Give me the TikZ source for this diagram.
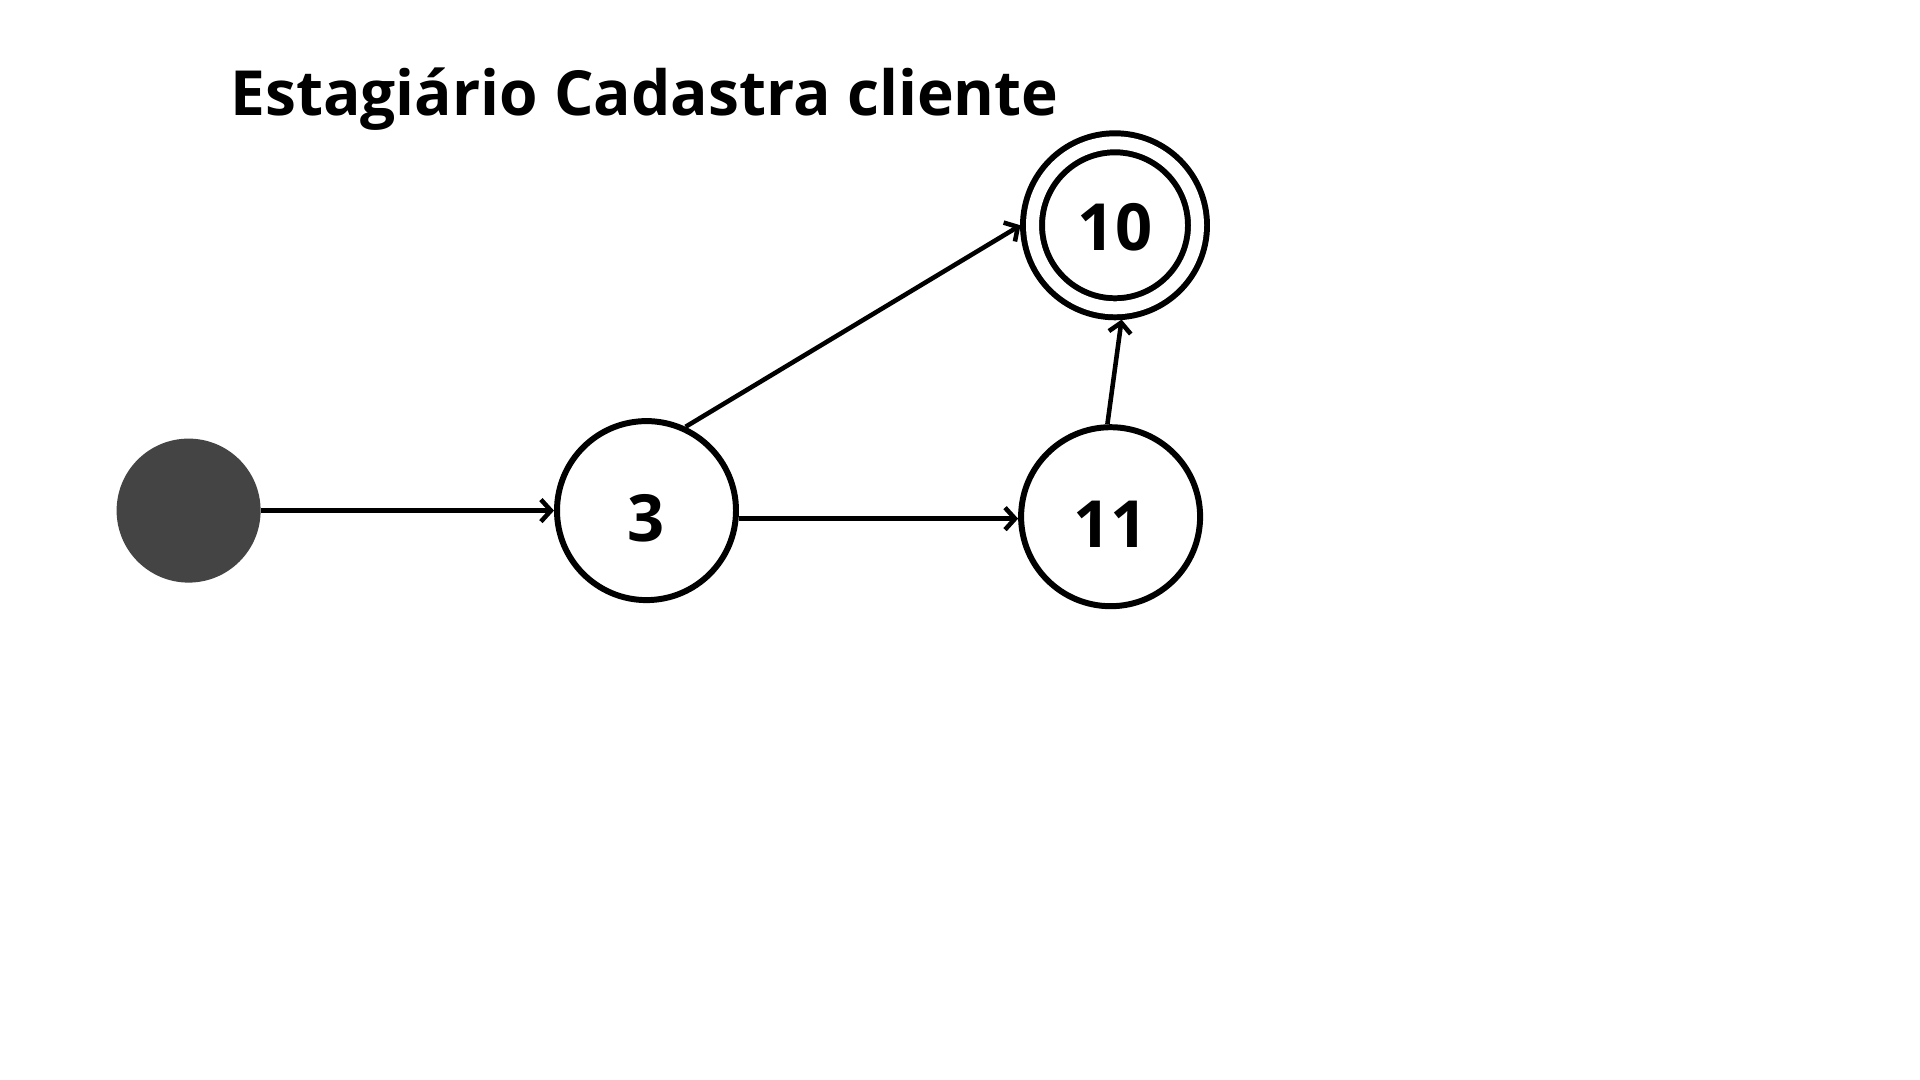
\documentclass[tikz,border=0pt]{standalone}
\usepackage{fontspec}
\setmainfont{Open Sans}
\usepackage{tikz}
\usetikzlibrary{arrows.meta}

\begin{document}
\begin{tikzpicture}[>={Straight Barb[length=1mm, width=2.2mm]},
    estado/.style={circle, draw, line width=1.7pt, fill=white, inner sep=0pt, minimum size=1.79cm, font=\fontsize{18.5}{20}\selectfont\bfseries, text height=0.62cm, text depth=0cm},
    final/.style={estado, double, double distance=0.13cm, minimum size=1.65cm, outer sep=0.12cm, text height=0.5cm},
    inicio/.style={circle, fill={rgb,255:red,68;green,68;blue,68}, inner sep=0pt, minimum size=1.44cm},
    seta/.style={->, line width=1.3pt}]
    \useasboundingbox (0, 0) rectangle (19.2, -10.8);
    \node [anchor=base west, font=\fontsize{17.7}{20}\selectfont\bfseries] (titulo) at (2.18, -1.16) {Estagiário Cadastra cliente};
    \node [inicio] (s0) at (1.886, -5.106) {};
    \node [estado] (q3) at (6.465, -5.106) {3};
    \node [estado] (q11) at (11.106, -5.167) {11};
    \node [final] (q10) at (11.15, -2.253) {10};
    \draw [seta] (s0) -- (q3);
    \draw [seta] (q3.-5) -- (q3.-5 -| q11.west);
    \draw [seta] (q3.65) -- (q10.west);
    \draw [seta] (q11.92) -- (q10.-86);
\end{tikzpicture}
\end{document}
